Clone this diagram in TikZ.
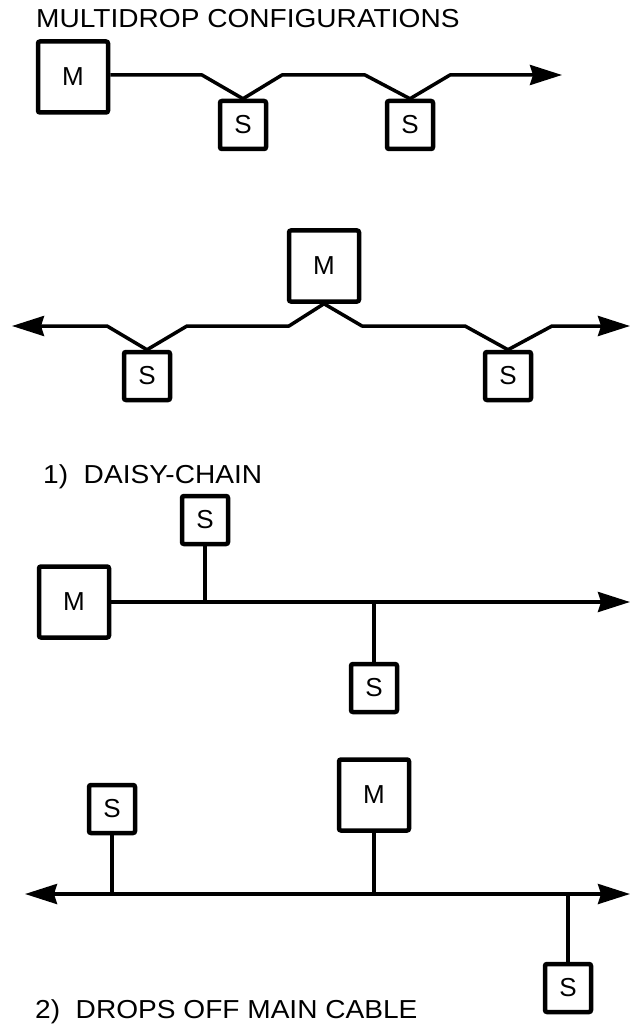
\documentclass[tikz,border=0pt]{standalone}
\usepackage{fontspec}
\setmainfont{Liberation Sans}
\usetikzlibrary{arrows.meta}
\newcommand\diagfont{\fontsize{26}{30}\selectfont}
\newcommand\widetext[1]{\scalebox{1.08}[1]{#1}}
\begin{document}
\begin{tikzpicture}[x=1pt,y=-1pt,
  wire/.style={line width=3.5pt, line join=round},
  unit/.style={draw, line width=4.5pt, rounded corners=2pt, inner sep=0pt, font=\diagfont},
  master/.style={unit, minimum width=70pt, minimum height=71pt},
  slave/.style={unit, minimum width=46pt, minimum height=48pt},
  caption/.style={anchor=base west, inner sep=0pt, font=\diagfont},
  tip/.style={-{Stealth[length=32pt,width=20pt,inset=3pt]}},
  twotip/.style={{Stealth[length=32pt,width=20pt,inset=3pt]}-{Stealth[length=32pt,width=20pt,inset=3pt]}}]
\useasboundingbox (0,0) rectangle (630,1024);

% heading
\node[caption] (title) at (36,28) {\widetext{MULTIDROP CONFIGURATIONS}};

% daisy chain, master at the end
\node[master] (m1) at (73,77) {M};
\node[slave] (s11) at (243,125) {S};
\node[slave] (s12) at (410,125) {S};
\coordinate (e1) at (562,75);
\draw[wire, tip] (m1.east |- e1) -- (202,75) -- (s11.north) -- (282,75) -- (365,75)
  -- (s12.north) -- (450,75) -- (e1);

% daisy chain, master in the middle
\node[master] (m2) at (324,266) {M};
\node[slave] (s21) at (147,376) {S};
\node[slave] (s22) at (508,376) {S};
\coordinate (w2) at (12,326);
\coordinate (e2) at (630,326);
\draw[wire, twotip] (w2) -- (107,326) -- (s21.north) -- (187,326) -- (289,326)
  -- (m2.south) -- (362,326) -- (465,326) -- (s22.north) -- (552,326) -- (e2);

\node[caption] (cap1) at (43,483) {\widetext{1)\ \ DAISY-CHAIN}};

% drops, master at the end
\node[slave] (s31) at (205,520) {S};
\node[master] (m3) at (74,602) {M};
\node[slave] (s32) at (374,688) {S};
\coordinate (e3) at (630,602);
\draw[wire, tip] (m3.east) -- (e3);
\draw[wire] (s31.south) -- (s31.south |- e3);
\draw[wire] (s32.north) -- (s32.north |- e3);

% drops, master in the middle
\node[slave] (s41) at (112,809) {S};
\node[master] (m4) at (374,795) {M};
\node[slave] (s42) at (568,988) {S};
\coordinate (w4) at (25,894);
\coordinate (e4) at (630,894);
\draw[wire, twotip] (w4) -- (e4);
\draw[wire] (s41.south) -- (s41.south |- e4);
\draw[wire] (m4.south) -- (m4.south |- e4);
\draw[wire] (s42.north) -- (s42.north |- e4);

\node[caption] (cap2) at (35,1018) {\widetext{2)\ \ DROPS OFF MAIN CABLE}};
\end{tikzpicture}
\end{document}
